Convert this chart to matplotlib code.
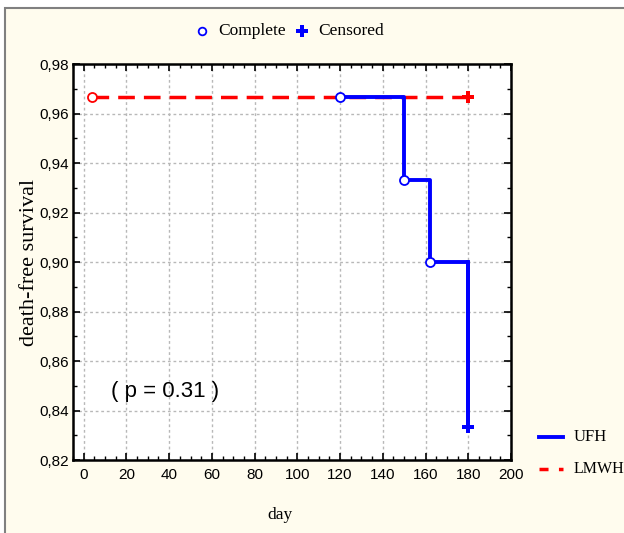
import matplotlib
matplotlib.use("Agg")
import matplotlib.pyplot as plt
from matplotlib.patches import Rectangle
from matplotlib.lines import Line2D
from matplotlib.ticker import MultipleLocator, FuncFormatter

# Data
ufh_days = [120, 150, 162, 180]
ufh_surv = [0.9667, 0.9333, 0.9000, 0.8333]
ufh_complete_x = [120, 150, 162]
ufh_complete_y = [0.9667, 0.9333, 0.9000]
ufh_censored_x = [180]
ufh_censored_y = [0.8333]

lmwh_days = [4, 180]
lmwh_surv = [0.9667, 0.9667]
lmwh_complete_x = [4]
lmwh_complete_y = [0.9667]
lmwh_censored_x = [180]
lmwh_censored_y = [0.9667]

xticks = [0, 20, 40, 60, 80, 100, 120, 140, 160, 180, 200]
yticks = [0.82, 0.84, 0.86, 0.88, 0.90, 0.92, 0.94, 0.96, 0.98]

BG = "#FFFCEE"
W, H = 624, 533
fig = plt.figure(figsize=(W / 100, H / 100), dpi=100)
fig.patch.set_facecolor("white")

# cream panel with gray border
fig.patches.append(Rectangle((5 / W, -0.2), 1.2, 1.2 - 8 / H, transform=fig.transFigure,
                             facecolor=BG, edgecolor="#808080", linewidth=1.5, zorder=-10))

ax = fig.add_axes([73 / W, 1 - 460 / H, (511 - 73) / W, (460 - 64) / H])
ax.set_zorder(5)
ax.set_facecolor("white")
ax.set_xlim(-5, 200)
ax.set_ylim(0.82, 0.98)

sans = ["Liberation Sans Narrow", "Liberation Sans", "DejaVu Sans"]
serif = ["Liberation Serif", "DejaVu Serif"]

ax.set_xticks(xticks)
ax.set_yticks(yticks)
ax.xaxis.set_minor_locator(MultipleLocator(5))
ax.yaxis.set_minor_locator(MultipleLocator(0.01))
ax.yaxis.set_major_formatter(FuncFormatter(lambda v, p: f"{v:.2f}".replace(".", ",")))
ax.tick_params(which="both", direction="in", top=True, right=True, colors="black",
               labelsize=11)
ax.tick_params(which="major", length=5, width=1.2)
ax.tick_params(which="minor", length=3, width=1.0)
for lab in ax.get_xticklabels() + ax.get_yticklabels():
    lab.set_family(sans)
ax.tick_params(axis="x", pad=6)
ax.tick_params(axis="y", pad=3)
for s in ax.spines.values():
    s.set_linewidth(1.8)

ax.grid(True, which="major", linestyle=(0, (2, 2)), color="#B8B8B8", linewidth=1.0)
ax.set_axisbelow(True)

# LMWH
ax.plot(lmwh_days, lmwh_surv, color="red", linestyle=(0, (4.8, 2.6)), linewidth=2.5, zorder=3)
ax.plot(lmwh_complete_x, lmwh_complete_y, "o", mfc="white", mec="red", ms=6.5, mew=1.3, zorder=5)
ax.plot(lmwh_censored_x, lmwh_censored_y, "P", color="red", ms=9, mew=0, zorder=5)

# UFH step
ax.step(ufh_days, ufh_surv, where="post", color="blue", linewidth=2.8, zorder=4)
ax.plot([ufh_days[-1], ufh_days[-1]], [ufh_surv[-2], ufh_surv[-1]], color="blue", linewidth=2.8, zorder=4)
ax.plot(ufh_complete_x, ufh_complete_y, "o", mfc="white", mec="blue", ms=6.5, mew=1.3, zorder=6)
ax.plot(ufh_censored_x, ufh_censored_y, "P", color="blue", ms=9, mew=0, zorder=6)

ax.text(13, 0.8475, "( p = 0.31 )", fontsize=16, family=sans, ha="left", va="center")

ax.set_ylabel("death-free survival", fontsize=16, family=serif)
ax.yaxis.set_label_coords((39 - 73) / 438, 0.5)
fig.text(280 / W, 1 - 515 / H, "day", fontsize=12.5, family=serif, ha="center", va="center")

# top legend
fig.lines.append(Line2D([202 / W], [1 - 31 / H], marker="o", mfc="white", mec="blue", ms=5.5,
                        mew=1.3, transform=fig.transFigure, linestyle="none"))
fig.text(218 / W, 1 - 31 / H, "Complete", fontsize=12.5, family=serif, ha="left", va="center")
fig.lines.append(Line2D([302 / W], [1 - 31 / H], marker="P", color="blue", ms=9, mew=0,
                        transform=fig.transFigure, linestyle="none"))
fig.text(318 / W, 1 - 31 / H, "Censored", fontsize=12.5, family=serif, ha="left", va="center")

# right legend
fig.lines.append(Line2D([539 / W, 563 / W], [1 - 437 / H] * 2, color="blue", linewidth=2.8,
                        transform=fig.transFigure))
fig.text(574 / W, 1 - 437 / H, "UFH", fontsize=12, family=serif, ha="left", va="center")
fig.lines.append(Line2D([539 / W, 563 / W], [1 - 469 / H] * 2, color="red", linewidth=2.5,
                        linestyle=(0, (2.6, 3.0)), transform=fig.transFigure))
fig.text(574 / W, 1 - 469 / H, "LMWH", fontsize=11.5, family=serif, ha="left", va="center")

fig.savefig("out.png", dpi=100, facecolor=fig.get_facecolor())
